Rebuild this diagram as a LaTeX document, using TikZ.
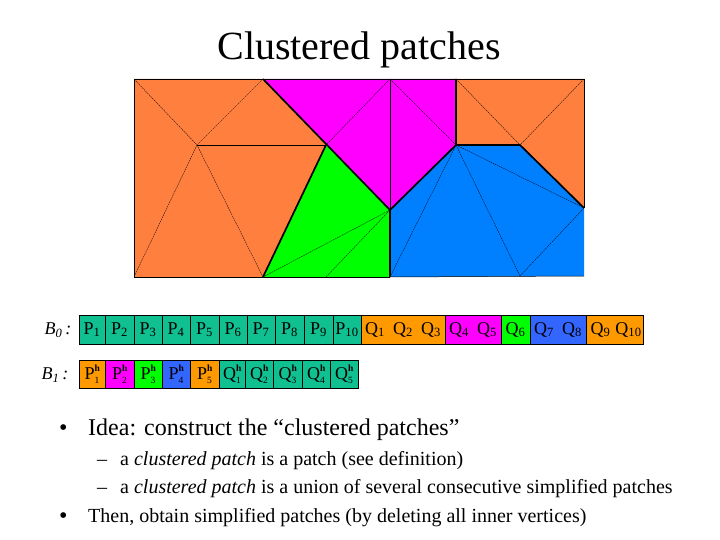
\documentclass[tikz,border=0pt]{standalone}
\usepackage{fontspec}
\setmainfont{Liberation Serif}
\usepackage{tikz}
\usetikzlibrary{arrows.meta,calc,positioning}
\definecolor{meshorange}{RGB}{255,127,63}
\definecolor{meshblue}{RGB}{0,128,255}
\definecolor{meshmagenta}{RGB}{255,0,255}
\definecolor{cellteal}{RGB}{16,192,144}
\definecolor{cellorange}{RGB}{255,153,0}
\definecolor{cellblue}{RGB}{51,102,255}
\newcommand{\Pcell}[2]{#1\textsubscript{#2}}
\newcommand{\Hcell}[2]{#1\makebox[0pt][l]{\raisebox{8.5pt}{\fontsize{9.5}{9.5}\selectfont\bfseries h}}\raisebox{-4pt}{\fontsize{9.5}{9.5}\selectfont #2}}
\newcommand{\Qbox}[2]{\makebox[#1pt]{Q\textsubscript{#2}}}
\tikzset{
  meshline/.style={line width=.35pt,dash pattern=on 1.6pt off .8pt},
  meshedge/.style={line width=.8pt},
  meshcut/.style={line width=1.7pt},
  cell/.style={draw,line width=.6pt,minimum height=#1,inner sep=0pt,outer sep=0pt,font=\fontsize{18}{18}\selectfont},
  cell/.default=29pt,
  hcell/.style={cell=28pt},
  rowlabel/.style={font=\fontsize{18}{18}\selectfont\itshape,anchor=east},
  bullet/.style={anchor=base west,inner sep=0pt,font=\fontsize{24}{24}\selectfont},
  subitem/.style={anchor=base west,inner sep=0pt,font=\fontsize{20}{20}\selectfont}
}
\begin{document}
\begin{tikzpicture}[x=1pt,y=-1pt]
  \useasboundingbox (0,0) rectangle (720,540);
  \node[inner sep=0pt,font=\fontsize{40}{40}\selectfont] (title) at (359,50) {Clustered patches};
  % mesh vertices
  \coordinate (tl) at (134,79);
  \coordinate (tm) at (263,79);
  \coordinate (tp) at (390,79);
  \coordinate (tq) at (456,79);
  \coordinate (tr) at (584,79);
  \coordinate (cl) at (197,145);
  \coordinate (cm) at (326,145);
  \coordinate (cq) at (456,145);
  \coordinate (cr) at (520,145);
  \coordinate (mid) at (390,210);
  \coordinate (rr) at (584,208);
  \coordinate (bl) at (134,277);
  \coordinate (bm) at (263,277);
  \coordinate (bg) at (326,277);
  \coordinate (bp) at (390,277);
  \coordinate (bq) at (520,276);
  \coordinate (br) at (584,276);
  % regions
  \fill[meshorange] (tl)--(tm)--(cm)--(bm)--(bl)--cycle;
  \fill[meshmagenta] (tm)--(tq)--(cq)--(mid)--cycle;
  \fill[green] (cm)--(mid)--(bp)--(bm)--cycle;
  \fill[meshblue] (mid)--(cq)--(cr)--(rr)--(br)--(bp)--cycle;
  \fill[meshorange] (tq)--(tr)--(rr)--(cr)--(cq)--cycle;
  % inner triangulation
  \draw[meshline] (tl)--(cl) (tm)--(cl) (cl)--(bl) (cl)--(bm);
  \draw[meshline] (tp)--(cm) (tp)--(cq);
  \draw[meshline] (bm)--(mid) (bg)--(mid);
  \draw[meshline] (cq)--(bp) (cq)--(bq) (cq)--(rr) (rr)--(bq);
  \draw[meshline] (tq)--(cr) (tr)--(cr);
  \draw[line width=.5pt] (tp)--(mid);
  \draw[meshedge] (cl)--(cm);
  % outer border
  \draw[meshedge] (tm)--(tl)--(bl)--(bm) (tq)--(tr)--(rr);
  \draw[line width=.5pt] (tm)--(tq);
  \draw[meshedge] (bm)--(bp);
  \draw[line width=.5pt] (bp)--(br);
  % cuts between the patches
  \draw[meshcut] (tm)--(mid)--(cq)--(tq);
  \draw[meshcut] (cm)--(bm);
  \draw[meshcut] (mid)--(bp);
  \draw[meshcut] (cq)--(cr)--(rr);
  % row B0, P cells
  \node[rowlabel] (bzero) at (75,330) {B\textsubscript{0}\,:};
  \foreach \name/\xa/\xb/\idx in {p1/79/105/1,p2/105/134/2,p3/134/162/3,p4/162/190/4,p5/190/219/5,p6/219/247/6,p7/247/275/7,p8/275/304/8,p9/304/333/9,p10/333/361/10}{
    \pgfmathsetmacro{\cellw}{\xb-\xa}
    \node[cell,fill=cellteal,minimum width=\cellw pt] (\name) at ({(\xa+\xb)/2},329.5) {\Pcell{P}{\idx}};
  }
  % row B0, Q groups
  \node[cell,fill=cellorange,minimum width=84pt,right=0pt of p10] (qa) {\Qbox{28}{1}\Qbox{28}{2}\Qbox{28}{3}};
  \node[cell,fill=meshmagenta,minimum width=56pt,right=0pt of qa] (qb) {\Qbox{28}{4}\Qbox{28}{5}};
  \node[cell,fill=green,minimum width=29pt,right=0pt of qb] (qc) {\Qbox{28}{6}};
  \node[cell,fill=cellblue,minimum width=56pt,right=0pt of qc] (qd) {\Qbox{28}{7}\Qbox{28}{8}};
  \node[cell,fill=cellorange,minimum width=57pt,right=0pt of qd] (qe) {\Qbox{28}{9}\Qbox{28}{10}};
  % row B1
  \node[rowlabel] (bone) at (72,375) {B\textsubscript{1}\,:};
  \foreach \name/\xa/\xb/\col/\lab/\idx in {ph1/79/105/cellorange/P/1,ph2/105/134/meshmagenta/P/2,ph3/134/162/green/P/3,ph4/162/190/cellblue/P/4,ph5/190/219/cellorange/P/5,qh1/219/245/cellteal/Q/1,qh2/245/273/cellteal/Q/2,qh3/273/302/cellteal/Q/3,qh4/302/330/cellteal/Q/4,qh5/330/358/cellteal/Q/5}{
    \pgfmathsetmacro{\cellw}{\xb-\xa}
    \node[hcell,fill=\col,minimum width=\cellw pt] (\name) at ({(\xa+\xb)/2},374) {\Hcell{\lab}{\idx}};
  }
  % text
  \node[bullet] (ba) at (59,435) {•};
  \node[bullet] (idea) at (88,435) {Idea: construct the “clustered patches”};
  \node[subitem] (da) at (97,465) {–};
  \node[subitem] (sa) at (120,465) {a \textit{clustered patch} is a patch (see definition)};
  \node[subitem] (db) at (97,493) {–};
  \node[subitem] (sb) at (120,493) {a \textit{clustered patch} is a union of several consecutive simplified patches};
  \node[bullet] (bb) at (59,523) {•};
  \node[subitem] (then) at (88,522) {Then, obtain simplified patches (by deleting all inner vertices)};
\end{tikzpicture}
\end{document}
